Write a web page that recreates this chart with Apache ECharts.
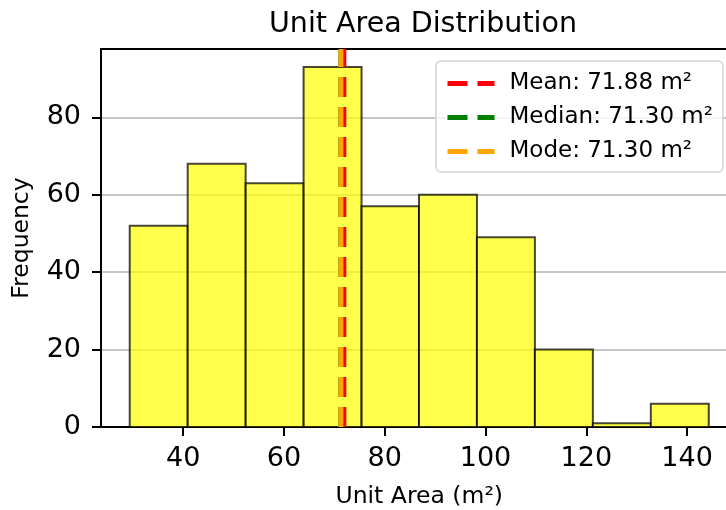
<!DOCTYPE html>
<html>
<head>
<meta charset="utf-8">
<title>Unit Area Distribution</title>
<script src="https://cdn.jsdelivr.net/npm/echarts@6/dist/echarts.min.js"></script>
<style>
  html, body { margin: 0; padding: 0; background: #ffffff; }
  #chart { width: 726px; height: 510px; }
</style>
</head>
<body>
<div id="chart"></div>
<script>
// Histogram bin edges (m²) and the count in each bin
const binEdges = [29.4, 40.9, 52.4, 63.9, 75.4, 86.8, 98.3, 109.8, 121.3, 132.8, 144.3];
const binCounts = [52, 68, 63, 93, 57, 60, 49, 20, 1, 6];

// Summary statistics drawn as vertical reference lines
const meanArea = 71.88;
const medianArea = 71.30;
const modeArea = 71.30;

// Axis ticks
const xTicks = [40, 60, 80, 100, 120, 140];
const yTicks = [0, 20, 40, 60, 80];

// Axis limits
const xMin = 23.7;
const xMax = 150.0;
const yMin = 0;
const yMax = 97.65;

const FONT = 'DejaVu Sans';

const histData = binCounts.map((c, i) => [binEdges[i], binEdges[i + 1], c]);

function refLine(name, value, color) {
  return {
    name: name,
    type: 'line',
    data: [[value, yMin], [value, yMax]],
    symbol: 'none',
    showSymbol: false,
    silent: true,
    animation: false,
    z: 5,
    lineStyle: { color: color, width: 5, type: [20, 10], cap: 'butt' },
    itemStyle: { color: color }
  };
}

const meanName = 'Mean: ' + meanArea.toFixed(2) + ' m²';
const medianName = 'Median: ' + medianArea.toFixed(2) + ' m²';
const modeName = 'Mode: ' + modeArea.toFixed(2) + ' m²';

const chart = echarts.init(document.getElementById('chart'), null, { renderer: 'canvas' });

chart.setOption({
  animation: false,
  backgroundColor: '#ffffff',
  textStyle: { fontFamily: FONT },
  title: {
    text: 'Unit Area Distribution',
    left: 418,
    top: 5,
    textAlign: 'center',
    textStyle: { fontFamily: FONT, fontSize: 28.5, fontWeight: 'normal', color: '#000000' }
  },
  grid: {
    left: 101,
    top: 49,
    width: 636.5,
    height: 378,
    containLabel: false,
    outerBoundsMode: 'none',
    show: true,
    borderColor: '#000000',
    borderWidth: 2,
    backgroundColor: 'transparent'
  },
  legend: {
    data: [meanName, medianName, modeName],
    orient: 'vertical',
    left: 436,
    top: 61,
    padding: [11, 10, 9, 9],
    itemGap: 11,
    itemWidth: 47,
    itemHeight: 14,
    backgroundColor: 'rgba(255,255,255,0.8)',
    borderColor: '#d4d4d4',
    borderWidth: 1.5,
    borderRadius: 5,
    selectedMode: false,
    itemStyle: { opacity: 0 },
    lineStyle: { width: 5 },
    textStyle: { fontFamily: FONT, fontSize: 23, color: '#000000', padding: [0, 0, 0, 10] }
  },
  xAxis: {
    type: 'value',
    min: xMin,
    max: xMax,
    name: 'Unit Area (m²)',
    nameLocation: 'middle',
    nameGap: 58,
    nameTextStyle: { fontFamily: FONT, fontSize: 23.5, color: '#000000' },
    axisLine: { show: true, onZero: false, lineStyle: { color: '#000000', width: 2 } },
    axisTick: { show: true, length: 9, customValues: xTicks, lineStyle: { color: '#000000', width: 2 } },
    axisLabel: { customValues: xTicks, margin: 18, fontFamily: FONT, fontSize: 27, color: '#000000' },
    splitLine: { show: false }
  },
  yAxis: {
    type: 'value',
    min: yMin,
    max: yMax,
    name: 'Frequency',
    nameLocation: 'middle',
    nameGap: 67,
    nameTextStyle: { fontFamily: FONT, fontSize: 23.5, color: '#000000' },
    axisLine: { show: true, lineStyle: { color: '#000000', width: 2 } },
    axisTick: { show: true, length: 9, customValues: yTicks, lineStyle: { color: '#000000', width: 2 } },
    axisLabel: { customValues: yTicks, margin: 20, fontFamily: FONT, fontSize: 27, color: '#000000' },
    splitLine: { show: true, lineStyle: { color: 'rgba(160,160,160,0.6)', width: 2 } }
  },
  series: [
    {
      name: 'Unit Area',
      type: 'custom',
      data: histData,
      encode: { x: [0, 1], y: 2 },
      z: 2,
      silent: true,
      renderItem: function (params, api) {
        const lo = api.value(0);
        const hi = api.value(1);
        const count = api.value(2);
        const topLeft = api.coord([lo, count]);
        const bottomRight = api.coord([hi, 0]);
        return {
          type: 'rect',
          shape: {
            x: topLeft[0],
            y: topLeft[1],
            width: bottomRight[0] - topLeft[0],
            height: bottomRight[1] - topLeft[1]
          },
          style: {
            fill: 'rgba(255,255,0,0.7)',
            stroke: 'rgba(0,0,0,0.72)',
            lineWidth: 2
          }
        };
      }
    },
    refLine(meanName, meanArea, '#ff0000'),
    refLine(medianName, medianArea, '#008000'),
    refLine(modeName, modeArea, '#ffa500')
  ]
});
</script>
</body>
</html>
